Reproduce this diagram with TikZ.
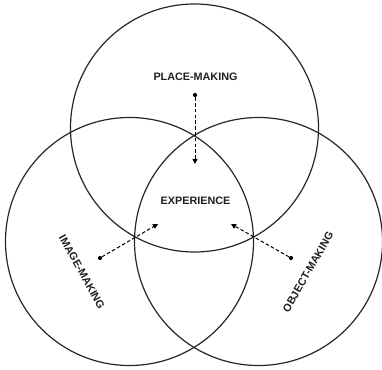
\documentclass[tikz,border=0pt]{standalone}
\usepackage{fontspec}
\setmainfont{Liberation Sans}
\usetikzlibrary{arrows.meta}
\begin{document}
\begin{tikzpicture}[x=1pt,y=1pt,
  ring/.style={draw=black!85,line width=1.2pt,circle,minimum size=248pt,inner sep=0pt},
  lbl/.style={font=\fontsize{10.8}{12}\selectfont\bfseries,inner sep=0pt,text=black!88},
  dotnode/.style={circle,fill=black,inner sep=0pt,minimum size=4.2pt},
  flow/.style={line width=1pt,dash pattern=on 3.5pt off 2.3pt,-{Triangle[width=5pt,length=5pt]}}]
\useasboundingbox (0,0) rectangle (382,369);
\node[ring] (top) at (194.5,241) {};
\node[ring] (left) at (129.5,127.5) {};
\node[ring] (right) at (258.5,127.5) {};
\node[lbl] (place) at (195.5,292.5) {PLACE-MAKING};
\node[lbl] (exp) at (195.5,168.5) {EXPERIENCE};
\node[lbl,rotate=-61] (image) at (82,97) {IMAGE-MAKING};
\node[lbl,rotate=60] (object) at (308,97) {OBJECT-MAKING};
\node[dotnode] (pd) at (195,274) {};
\node[dotnode] (ld) at (100,111) {};
\node[dotnode] (rd) at (291,111) {};
\coordinate (pe) at (195,205);
\coordinate (le) at (158,145);
\coordinate (re) at (231,145);
\draw[flow] (pd) -- (pe);
\draw[flow] (ld) -- (le);
\draw[flow] (rd) -- (re);
\end{tikzpicture}
\end{document}
